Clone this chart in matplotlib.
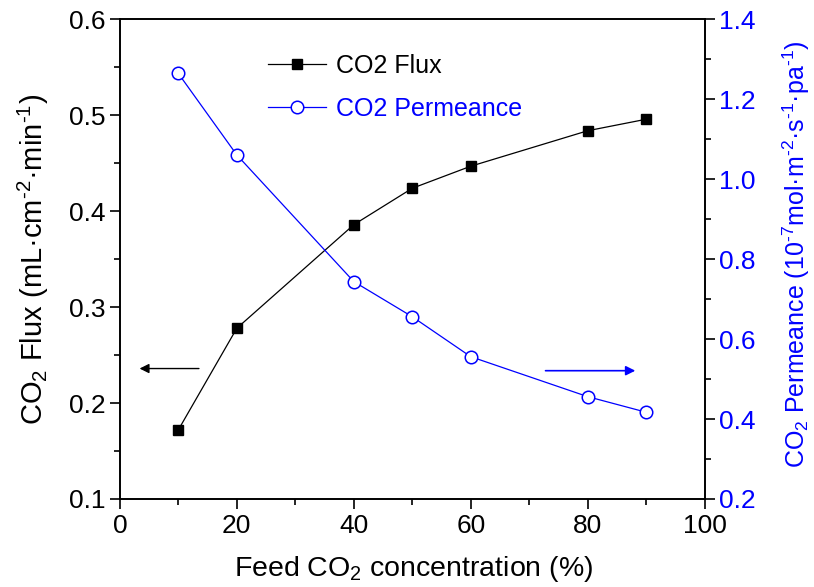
import matplotlib
matplotlib.use("Agg")
import matplotlib.pyplot as plt
from matplotlib.ticker import MultipleLocator

# data
feed_pct = [10, 20, 40, 50, 60, 80, 90]
co2_flux = [0.172, 0.278, 0.386, 0.424, 0.447, 0.484, 0.496]
co2_permeance = [1.265, 1.061, 0.744, 0.656, 0.556, 0.456, 0.417]

BLUE = "#0000ff"
plt.rcParams["font.family"] = ["Liberation Sans", "DejaVu Sans"]
plt.rcParams["mathtext.fontset"] = "custom"
plt.rcParams["mathtext.rm"] = "Liberation Sans"
plt.rcParams["mathtext.it"] = "Liberation Sans:italic"
plt.rcParams["mathtext.bf"] = "Liberation Sans:bold"

fig = plt.figure(figsize=(8.14, 5.87), dpi=100)
ax = fig.add_axes([0.1472, 0.150, 0.7186, 0.8168])
ax2 = ax.twinx()

l1, = ax.plot(feed_pct, co2_flux, color="black", lw=0.9, marker="s", ms=7.5,
              mfc="black", mec="black", label="CO2 Flux", zorder=3)
l2, = ax2.plot(feed_pct, co2_permeance, color=BLUE, lw=0.9, marker="o", ms=9,
               mfc="white", mec=BLUE, mew=1.1, label="CO2 Permeance", zorder=3)

ax.set_xlim(0, 100)
ax.set_ylim(0.1, 0.6)
ax2.set_ylim(0.2, 1.4)

ax.xaxis.set_major_locator(MultipleLocator(20))
ax.xaxis.set_minor_locator(MultipleLocator(10))
ax.yaxis.set_major_locator(MultipleLocator(0.1))
ax.yaxis.set_minor_locator(MultipleLocator(0.05))
ax2.yaxis.set_major_locator(MultipleLocator(0.2))
ax2.yaxis.set_minor_locator(MultipleLocator(0.1))
ax.yaxis.set_major_formatter(lambda v, p: f"{v:.1f}")
ax2.yaxis.set_major_formatter(lambda v, p: f"{v:.1f}")

for a in (ax, ax2):
    for s in a.spines.values():
        s.set_linewidth(1.2)
    a.tick_params(which="major", direction="out", length=7, width=1.2, labelsize=19)
    a.tick_params(which="minor", direction="out", length=4, width=1.2)
ax2.tick_params(axis="y", which="both", labelcolor=BLUE)

ax.set_xlabel("Feed CO$_2$ concentration (%)", fontsize=20.5)
ax.set_ylabel(r"CO$_2$ Flux (mL·cm$^{\text{-2}}$·min$^{\text{-1}}$)", fontsize=21)
ax2.set_ylabel(r"CO$_2$ Permeance (10$^{\text{-7}}$mol·m$^{\text{-2}}$·s$^{\text{-1}}$·pa$^{\text{-1}}$)",
               fontsize=18, color=BLUE)
ax.xaxis.set_label_coords(0.503, -0.115)
ax.yaxis.set_label_coords(-0.117, 0.5)
ax2.yaxis.set_label_coords(1.13, 0.51)

# arrows pointing to each axis
ax.annotate("", xy=(2.9, 0.236), xytext=(14.0, 0.236),
            arrowprops=dict(arrowstyle="-|>", color="black", lw=1.0,
                            mutation_scale=14))
ax2.annotate("", xy=(88.6, 0.521), xytext=(72.3, 0.521),
             arrowprops=dict(arrowstyle="-|>", color=BLUE, lw=1.2,
                             mutation_scale=14))

leg = ax.legend(handles=[l1, l2], loc="upper left", bbox_to_anchor=(0.215, 0.975),
                frameon=False, fontsize=18, handlelength=2.3, handletextpad=0.4,
                labelspacing=0.75)
leg.get_texts()[1].set_color(BLUE)

fig.savefig("out.png", dpi=100)
